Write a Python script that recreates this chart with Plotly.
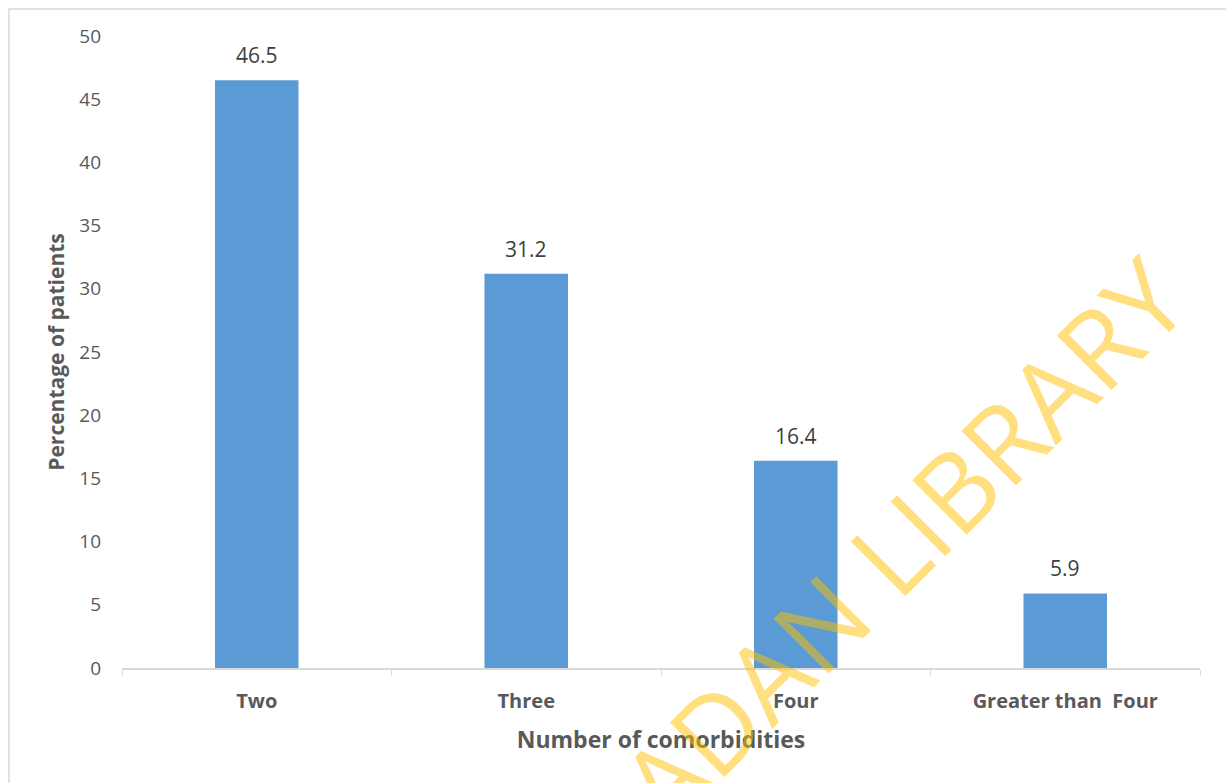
import plotly.graph_objects as go

categories = ["Two", "Three", "Four", "Greater than  Four"]
values = [46.5, 31.2, 16.4, 5.9]
value_labels = ["46.5", "31.2", "16.4", "5.9"]
y_ticks = [0, 5, 10, 15, 20, 25, 30, 35, 40, 45, 50]

W, H = 1226, 783
ML, MR, MT, MB = 122, 26, 36, 115
pw = W - ML - MR
ph = H - MT - MB

def px_x(x):
    return (x - ML) / pw

def px_y(y):
    return (H - MB - y) / ph

fig = go.Figure()
fig.add_trace(go.Bar(
    x=categories, y=values, width=0.31,
    marker=dict(color="#5B9BD5", line=dict(width=0)),
    hoverinfo="skip",
))

for c, v, t in zip(categories, values, value_labels):
    fig.add_annotation(x=c, y=v, text=t, showarrow=False, yshift=25,
                       font=dict(family="Open Sans", size=21, color="#404040"))

# watermark
fig.add_annotation(xref="paper", yref="paper", x=px_x(866), y=px_y(576),
                   xanchor="center", yanchor="middle",
                   text="IBADAN LIBRARY", showarrow=False, textangle=-45,
                   font=dict(family="Open Sans", size=108, color="rgba(255,192,0,0.5)"))

# outer border
fig.add_shape(type="rect", xref="paper", yref="paper",
              x0=px_x(9), y0=px_y(H + 20), x1=px_x(W + 20), y1=1 + (MT - 9) / ph,
              line=dict(color="#D9D9D9", width=1.5), fillcolor="rgba(0,0,0,0)", layer="below")

fig.update_layout(
    width=W, height=H,
    margin=dict(l=ML, r=MR, t=MT, b=MB),
    paper_bgcolor="white", plot_bgcolor="white",
    showlegend=False,
    bargap=0.69,
    font=dict(family="Open Sans", color="#595959"),
    xaxis=dict(
        showgrid=False, showline=True, linecolor="#D9D9D9", linewidth=1.5,
        ticks="outside", tickson="boundaries", ticklen=6, tickcolor="#D9D9D9", tickwidth=1,
        ticklabelstandoff=14,
        tickfont=dict(family="Open Sans", size=20, color="#595959", weight="bold"),
        title=dict(text="<b>Number of comorbidities</b>", standoff=19,
                   font=dict(family="Open Sans", size=23, color="#595959")),
        zeroline=False,
    ),
    yaxis=dict(
        range=[0, 50], tickvals=y_ticks, showgrid=False, showline=False, zeroline=False,
        ticks="", ticklabelstandoff=20,
        tickfont=dict(family="Open Sans", size=19, color="#595959"),
        title=dict(text="<b>Percentage of patients</b>", standoff=8,
                   font=dict(family="Open Sans", size=21, color="#595959")),
    ),
)

fig.write_html("out.html")
